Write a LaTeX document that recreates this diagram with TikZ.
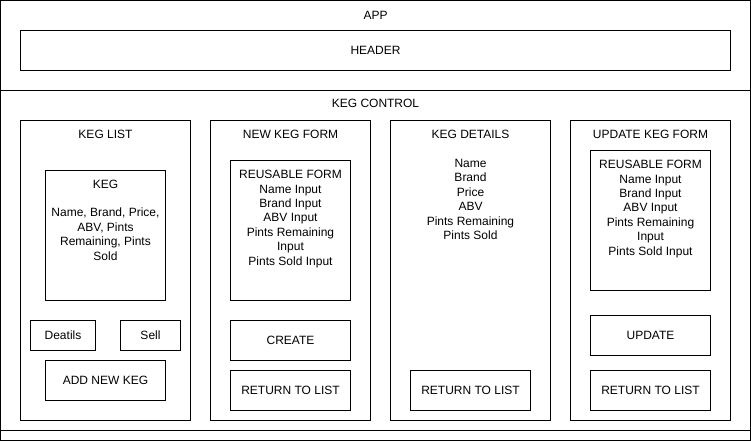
\documentclass[tikz,border=0pt]{standalone}
\usepackage{fontspec}
\setmainfont{Liberation Sans}
\usetikzlibrary{fit}
\begin{document}
\begin{tikzpicture}[x=1pt,y=-1pt,
  box/.style={draw=black, line width=1pt, inner sep=0pt, outer sep=0pt},
  txt/.style={font=\fontsize{12}{14.4}\selectfont, inner sep=0pt, outer sep=0pt, align=center, anchor=north}]
\useasboundingbox[fill=white] (-0.5,-0.5) rectangle (750.5,440.5);
% outer frames
\node[box, fit={(0,0) (750,440)}] (app) {};
\node[box, fit={(20,30) (730,70)}] (header) {};
\node[box, fit={(0,90) (750,430)}] (kegcontrol) {};
% columns
\node[box, fit={(20,120) (190,420)}] (keglist) {};
\node[box, fit={(210,120) (370,420)}] (newform) {};
\node[box, fit={(390,120) (550,420)}] (details) {};
\node[box, fit={(570,120) (730,420)}] (updform) {};
% keg list inner
\node[box, fit={(45,170) (165,300)}] (keg) {};
\node[box, fit={(30,320) (95,350)}] (deatils) {};
\node[box, fit={(120,320) (180,350)}] (sell) {};
\node[box, fit={(45,360) (165,400)}] (addnew) {};
% new keg form inner
\node[box, fit={(230,160) (350,300)}] (reuse1) {};
\node[box, fit={(230,320) (350,360)}] (create) {};
\node[box, fit={(230,370) (350,410)}] (ret1) {};
% details inner
\node[box, fit={(410,370) (530,410)}] (ret2) {};
% update form inner
\node[box, fit={(590,150) (710,290)}] (reuse2) {};
\node[box, fit={(590,315) (710,355)}] (update) {};
\node[box, fit={(590,370) (710,410)}] (ret3) {};
% texts (north = first-line centre - 5.8)
\node[txt] (tapp) at (375,9.4) {\strut APP};
\node[txt] (theader) at (375,44.2) {\strut HEADER};
\node[txt] (tkc) at (375,97.4) {\strut KEG CONTROL};
\node[txt] (tkl) at (105,127.6) {\strut KEG LIST};
\node[txt] (tnf) at (290,127.6) {\strut NEW KEG FORM};
\node[txt] (tkd) at (470,128.2) {\strut KEG DETAILS};
\node[txt] (tuf) at (650,128.2) {\strut UPDATE KEG FORM};
\node[txt] (tkeg) at (105,177.5) {\strut KEG\\[0pt] \\ Name, Brand, Price,\\ABV, Pints\\Remaining, Pints\\Sold};
\node[txt] (tr1) at (290,168.2) {\strut REUSABLE FORM\\Name Input\\Brand Input\\ABV Input\\Pints Remaining\\Input\\Pints Sold Input};
\node[txt] (tdet) at (470,156.9) {\strut Name\\Brand\\Price\\ABV\\Pints Remaining\\Pints Sold};
\node[txt] (tr2) at (650,158.2) {\strut REUSABLE FORM\\Name Input\\Brand Input\\ABV Input\\Pints Remaining\\Input\\Pints Sold Input};
\node[txt] (tdeat) at (62.5,329.4) {\strut Deatils};
\node[txt] (tsell) at (150,329.4) {\strut Sell};
\node[txt] (tadd) at (105,374.2) {\strut ADD NEW KEG};
\node[txt] (tcreate) at (290,334.2) {\strut CREATE};
\node[txt] (tret1) at (290,384.2) {\strut RETURN TO LIST};
\node[txt] (tret2) at (470,384.2) {\strut RETURN TO LIST};
\node[txt] (tupdate) at (650,329.2) {\strut UPDATE};
\node[txt] (tret3) at (650,384.2) {\strut RETURN TO LIST};
\end{tikzpicture}
\end{document}
